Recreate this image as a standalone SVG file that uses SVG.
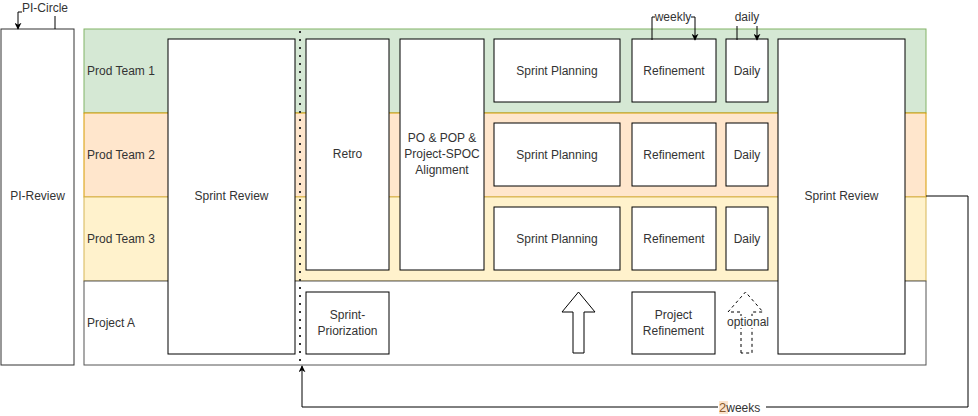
<svg xmlns="http://www.w3.org/2000/svg" width="978" height="416" viewBox="0 0 978 416">
<style>
text{font-family:"Liberation Sans",Arial,sans-serif;font-size:12px;fill:#333;}
.c{text-anchor:middle;}
.box{fill:#fff;stroke:#000;stroke-width:1;}
.conn{fill:none;stroke:#000;stroke-width:1;}
</style>
<defs>
<marker id="ah" viewBox="0 0 10 10" refX="9" refY="5" markerWidth="7" markerHeight="7" markerUnits="userSpaceOnUse" orient="auto">
<path d="M0,0 L10,5 L0,10 L3,5 Z" fill="#000"/>
</marker>
</defs>
<rect x="0" y="0" width="978" height="416" fill="#fff"/>

<g id="pi-review">
<rect x="1" y="29" width="73" height="336" fill="#fff" stroke="#333"/>
<text class="c" x="37.5" y="200">PI-Review</text>
</g>

<g id="lane-team1">
<rect x="84" y="29" width="842" height="84" fill="#d5e8d4" stroke="#82b366"/>
<text x="87" y="75">Prod Team 1</text>
</g>
<g id="lane-team2">
<rect x="84" y="113" width="842" height="84" fill="#ffe6cc" stroke="#d79b00"/>
<text x="87" y="159">Prod Team 2</text>
</g>
<g id="lane-team3">
<rect x="84" y="197" width="842" height="84" fill="#fff2cc" stroke="#d6b656"/>
<text x="87" y="243">Prod Team 3</text>
</g>
<g id="lane-project">
<rect x="84" y="281" width="842" height="84" fill="#fff" stroke="#555"/>
<text x="87" y="327">Project A</text>
</g>

<g id="sprint-review-left">
<rect class="box" x="168" y="39" width="127" height="315"/>
<text class="c" x="231.5" y="200">Sprint Review</text>
</g>

<g id="divider">
<line x1="300" y1="31" x2="300" y2="365" stroke="#333" stroke-width="2" stroke-dasharray="2 6"/>
</g>

<g id="retro">
<rect class="box" x="306" y="39" width="83" height="231"/>
<text class="c" x="347.5" y="158">Retro</text>
</g>
<g id="po-alignment">
<rect class="box" x="400" y="39" width="84" height="231"/>
<text class="c" x="442" y="142">PO &amp; POP &amp;</text>
<text class="c" x="442" y="158">Project-SPOC</text>
<text class="c" x="442" y="174">Alignment</text>
</g>

<g id="sp1"><rect class="box" x="494" y="39" width="126" height="63"/><text class="c" x="557" y="75">Sprint Planning</text></g>
<g id="ref1"><rect class="box" x="632" y="39" width="84" height="63"/><text class="c" x="674" y="75">Refinement</text></g>
<g id="daily1"><rect class="box" x="726" y="39" width="42" height="63"/><text class="c" x="747" y="75">Daily</text></g>

<g id="sp2"><rect class="box" x="494" y="123" width="126" height="63"/><text class="c" x="557" y="159">Sprint Planning</text></g>
<g id="ref2"><rect class="box" x="632" y="123" width="84" height="63"/><text class="c" x="674" y="159">Refinement</text></g>
<g id="daily2"><rect class="box" x="726" y="123" width="42" height="63"/><text class="c" x="747" y="159">Daily</text></g>

<g id="sp3"><rect class="box" x="494" y="207" width="126" height="63"/><text class="c" x="557" y="243">Sprint Planning</text></g>
<g id="ref3"><rect class="box" x="632" y="207" width="84" height="63"/><text class="c" x="674" y="243">Refinement</text></g>
<g id="daily3"><rect class="box" x="726" y="207" width="42" height="63"/><text class="c" x="747" y="243">Daily</text></g>

<g id="sprint-priorization">
<rect class="box" x="306" y="292" width="83" height="62"/>
<text class="c" x="347.5" y="319">Sprint-</text>
<text class="c" x="347.5" y="335">Priorization</text>
</g>

<g id="up-arrow">
<path d="M573,353 L573,312 L562,312 L578.5,292 L595,312 L584,312 L584,353 Z" fill="#fff" stroke="#000"/>
</g>

<g id="project-refinement">
<rect class="box" x="632" y="292" width="83" height="62"/>
<text class="c" x="673.5" y="319">Project</text>
<text class="c" x="673.5" y="335">Refinement</text>
</g>

<g id="optional-arrow">
<path d="M741,353 L741,312 L728,312 L745.5,292 L763,312 L752,312 L752,353 Z" fill="#fff" stroke="#000" stroke-dasharray="3 3"/>
<rect x="727" y="316" width="42" height="12" fill="#fff"/>
<text class="c" x="748" y="326">optional</text>
</g>

<g id="sprint-review-right">
<rect class="box" x="778" y="39" width="127" height="315"/>
<text class="c" x="841.5" y="200">Sprint Review</text>
</g>

<g id="connectors">
<path class="conn" d="M55,29 V12 H18 V29" marker-end="url(#ah)"/>
<rect x="22" y="2" width="46" height="14" fill="#fff"/>
<text class="c" x="45" y="12">PI-Circle</text>

<path class="conn" d="M652,40 V17 H695 V40" marker-end="url(#ah)"/>
<rect x="655" y="10" width="36" height="14" fill="#fff"/>
<text class="c" x="673" y="21">weekly</text>

<path class="conn" d="M737,40 V17 H757 V40" marker-end="url(#ah)"/>
<rect x="733" y="6" width="28" height="20" fill="#fff"/>
<text class="c" x="747" y="21">daily</text>

<path class="conn" d="M926,196 H968 V407 H302 V366" marker-end="url(#ah)"/>
<rect x="718" y="400" width="48" height="14" fill="#fff"/>
<rect x="719" y="401" width="9" height="13" fill="#fbe3cc"/>
<text x="719" y="412"><tspan style="fill:#8a5a2b;font-size:13px">2</tspan>weeks</text>
</g>
</svg>
